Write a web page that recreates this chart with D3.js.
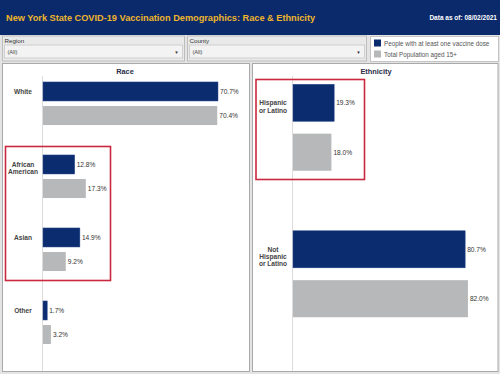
<!DOCTYPE html>
<html>
<head>
  <title>NYS COVID-19 Vaccination Demographics: Race & Ethnicity</title>
  <script src="https://d3js.org/d3.v7.min.js"></script>
  <style>
    body { margin: 0; padding: 0; background: #fff; }
    svg { display: block; font-family: 'Liberation Sans', Arial, sans-serif; }
  </style>
</head>
<body>
  <svg id="canvas" width="500" height="374"></svg>

  <script>
    // values
    const raceCats = ["White", "African\nAmerican", "Asian", "Other"];
    const raceDose = [70.7, 12.8, 14.9, 1.7];
    const racePop  = [70.4, 17.3, 9.2, 3.2];

    const ethCats = ["Hispanic\nor Latino", "Not\nHispanic\nor Latino"];
    const ethDose = [19.3, 80.7];
    const ethPop  = [18.0, 82.0];

    const seriesNames = ["People with at least one vaccine dose", "Total Population aged 15+"];
    const seriesColors = ["#0c2c70", "#b6b8b9"];
    const navy = "#0b2a6b";

    const svg = d3.select("#canvas");

    svg.append("rect").attr("width", 500).attr("height", 374).attr("fill", "#e4e4e4");

    // header
    svg.append("rect").attr("width", 500).attr("height", 35).attr("fill", navy);
    svg.append("text")
      .attr("x", 6).attr("y", 20.5)
      .attr("fill", "#eeb52b")
      .attr("font-size", 9.2).attr("font-weight", "bold")
      .text("New York State COVID-19 Vaccination Demographics: Race & Ethnicity");
    svg.append("text")
      .attr("x", 497).attr("y", 19.5)
      .attr("text-anchor", "end")
      .attr("fill", "#fff")
      .attr("font-size", 6.5).attr("font-weight", "bold")
      .text("Data as of: 08/02/2021");

    // filter boxes
    function filterBox(x, w, label) {
      const g = svg.append("g");
      g.append("rect").attr("x", x).attr("y", 36).attr("width", w).attr("height", 25)
        .attr("fill", "#e9e9e9").attr("stroke", "#bdbdbd");
      g.append("text").attr("x", x + 2).attr("y", 42.5)
        .attr("font-size", 6.2).attr("fill", "#333").text(label);
      g.append("rect").attr("x", x + 2).attr("y", 45).attr("width", w - 4).attr("height", 13)
        .attr("fill", "#f3f3f3").attr("stroke", "#cfcfcf");
      g.append("text").attr("x", x + 5).attr("y", 53.5)
        .attr("font-size", 5.6).attr("fill", "#444").text("(All)");
      g.append("text").attr("x", x + w - 8).attr("y", 53.5)
        .attr("font-size", 4.5).attr("fill", "#333").attr("text-anchor", "middle").text("▼");
    }
    filterBox(2.5, 182, "Region");
    filterBox(187.5, 179, "County");

    // legend
    const leg = svg.append("g");
    leg.append("rect").attr("x", 370.5).attr("y", 36.5).attr("width", 128).attr("height", 25)
      .attr("fill", "#fff").attr("stroke", "#c4c4c4");
    seriesNames.forEach((name, i) => {
      leg.append("rect").attr("x", 374).attr("y", 39.5 + i * 11).attr("width", 7).attr("height", 7)
        .attr("fill", seriesColors[i]);
      leg.append("text").attr("x", 384).attr("y", 45.5 + i * 11)
        .attr("font-size", 6.3).attr("fill", "#555").text(name);
    });

    function panel(opt) {
      const g = svg.append("g");
      g.append("rect").attr("x", opt.x0 + 0.5).attr("y", 63.5)
        .attr("width", opt.x1 - opt.x0 - 1).attr("height", 308)
        .attr("fill", "#fff").attr("stroke", "#a9a9a9");
      g.append("text").attr("x", opt.titleX).attr("y", 74)
        .attr("text-anchor", "middle").attr("font-size", 7.4).attr("font-weight", "bold")
        .attr("fill", "#2a2d4a").text(opt.title);

      const y = d3.scaleBand().domain(opt.cats).range(opt.yRange)
        .paddingInner(0.41).paddingOuter(0.205);
      const sub = d3.scaleBand().domain([0, 1]).range([0, y.bandwidth()]).paddingInner(opt.subPad);
      const x = d3.scaleLinear().domain(opt.xDomain).range(opt.xRange);

      // zero line
      g.append("line").attr("x1", x(0) - 0.5).attr("x2", x(0) - 0.5)
        .attr("y1", 76).attr("y2", 371)
        .attr("stroke", "#dcdcdc");

      const rows = opt.cats.map((c, i) => ({ cat: c, vals: [opt.dose[i], opt.pop[i]] }));
      const row = g.selectAll("g.row").data(rows).join("g").attr("class", "row")
        .attr("transform", d => `translate(0,${y(d.cat)})`);

      row.selectAll("rect").data(d => d.vals).join("rect")
        .attr("x", x(0))
        .attr("y", (d, i) => sub(i))
        .attr("width", d => x(d) - x(0))
        .attr("height", sub.bandwidth())
        .attr("fill", (d, i) => seriesColors[i])
        .attr("stroke", (d, i) => i === 0 ? "#2a4a8a" : "none")
        .attr("stroke-width", 0.5);

      row.selectAll("text.val").data(d => d.vals).join("text").attr("class", "val")
        .attr("x", d => x(d) + 2)
        .attr("y", (d, i) => sub(i) + sub.bandwidth() / 2 + 2.4)
        .attr("font-size", 6.6).attr("fill", "#333")
        .text(d => d.toFixed(1) + "%");

      row.append("text")
        .attr("text-anchor", "middle")
        .attr("font-size", 6.6).attr("font-weight", "bold").attr("fill", "#444")
        .selectAll("tspan").data(d => d.cat.split("\n")).join("tspan")
        .attr("x", x(0) - 20)
        .attr("y", (d, i) => sub(0) + sub.bandwidth() / 2 + 2.4 + i * 7.3)
        .text(d => d);

      // red highlight box
      opt.highlight.forEach(h => {
        g.append("rect").attr("x", h[0]).attr("y", h[1])
          .attr("width", h[2] - h[0]).attr("height", h[3] - h[1])
          .attr("fill", "none").attr("stroke", "#c9283e").attr("stroke-width", 1.6);
      });
    }

    panel({
      x0: 2, x1: 250, title: "Race", titleX: 125,
      cats: raceCats, dose: raceDose, pop: racePop,
      yRange: [67, 359], subPad: 0.21,
      xDomain: [0, 80], xRange: [43, 241],
      highlight: [[5.5, 146.5, 110.5, 280.5]]
    });

    panel({
      x0: 252, x1: 498.5, title: "Ethnicity", titleX: 376,
      cats: ethCats, dose: ethDose, pop: ethPop,
      yRange: [54.25, 347.25], subPad: 0.25,
      xDomain: [0, 90], xRange: [293, 485],
      highlight: [[256, 79.5, 364.5, 179.5]]
    });
  </script>
</body>
</html>
